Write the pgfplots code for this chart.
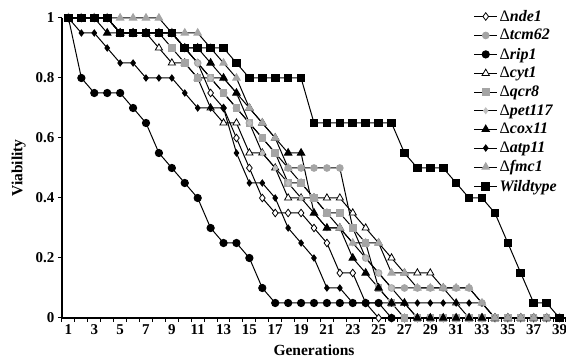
\documentclass[border=0pt]{standalone}
\usepackage{fontspec}
\setmainfont{Liberation Serif}
\usepackage{pgfplots}
\usepackage{pgfplotstable}
\pgfplotsset{compat=1.18}
\definecolor{mgray}{RGB}{165,165,165}
\definecolor{lgray}{RGB}{190,190,190}

\pgfplotstableread{
g nde tcm rip cyt qcr pet cox atp fmc wt
1 1 1 1 1 1 1 1 1 1 1
2 1 1 .8 1 1 1 1 .95 1 1
3 1 1 .75 1 1 1 1 .95 1 1
4 1 1 .75 1 1 1 .95 .9 1 1
5 .95 .95 .75 .95 .95 .95 .95 .85 1 .95
6 .95 .95 .7 .95 .95 .95 .95 .85 1 .95
7 .95 .95 .65 .95 .95 .95 .95 .8 1 .95
8 .95 .95 .55 .9 .95 .95 .95 .8 1 .95
9 .95 .95 .5 .85 .9 .95 .95 .8 .95 .95
10 .9 .9 .45 .85 .85 .9 .9 .75 .95 .9
11 .85 .85 .4 .8 .8 .85 .9 .7 .95 .9
12 .75 .8 .3 .7 .8 .8 .85 .7 .9 .9
13 .7 .75 .25 .65 .75 .8 .8 .7 .85 .9
14 .6 .7 .25 .65 .7 .75 .75 .55 .8 .85
15 .5 .65 .2 .55 .65 .65 .7 .45 .7 .8
16 .4 .6 .1 .55 .6 .55 .65 .45 .65 .8
17 .35 .55 .05 .5 .55 .5 .6 .4 .6 .8
18 .35 .5 .05 .4 .45 .45 .55 .3 .5 .8
19 .35 .5 .05 .4 .45 .4 .55 .25 .45 .8
20 .3 .5 .05 .4 .4 .35 .35 .2 .4 .65
21 .25 .5 .05 .4 .35 .3 .3 .1 .35 .65
22 .15 .5 .05 .4 .35 .3 .3 .1 .3 .65
23 .15 .3 .05 .35 .3 .25 .2 .05 .25 .65
24 .05 .2 .05 .3 .25 .2 .15 .05 .25 .65
25 0 .15 .05 .25 .1 .15 .1 .05 .25 .65
26 0 .1 0 .2 .05 .1 .05 .05 .15 .65
27 0 .1 0 .15 0 .05 .05 .05 .15 .55
28 0 .1 0 .15 0 0 0 .05 .1 .5
29 0 .1 0 .15 0 0 0 .05 .1 .5
30 0 .1 0 .1 0 0 0 .05 .1 .5
31 0 .1 0 .05 0 0 0 .05 .1 .45
32 0 .1 0 0 0 0 0 .05 .1 .4
33 0 .05 0 0 0 0 0 .05 .05 .4
34 0 0 0 0 0 0 0 0 0 .35
35 0 0 0 0 0 0 0 0 0 .25
36 0 0 0 0 0 0 0 0 0 .15
37 0 0 0 0 0 0 0 0 0 .05
38 0 0 0 0 0 0 0 0 0 .05
39 0 0 0 0 0 0 0 0 0 0
}\data

\begin{document}
\begin{tikzpicture}
\begin{axis}[
  scale only axis, width=504pt, height=300pt,
  xmin=0.5, xmax=39.5, ymin=0, ymax=1,
  axis lines*=left, axis line style={line width=1.3pt},
  clip=false,
  xtick={1,3,...,39},
  minor xtick={0.5,1.5,...,39.5},
  major x tick style={draw=none},
  ytick={0,0.2,0.4,0.6,0.8,1},
  tick align=outside,
  major tick length=4pt, minor tick length=4pt,
  tick style={line width=1pt, black},
  /pgf/number format/assume math mode=true,
  ticklabel style={font=\fontsize{15}{16}\selectfont\bfseries},
  xticklabel style={yshift=1pt},
  xlabel={Generations}, ylabel={Viability},
  label style={font=\fontsize{15.5}{17}\selectfont\bfseries},
  xlabel style={at={(rel axis cs:0.5,0)}, anchor=center, yshift=-32pt},
  ylabel style={at={(axis description cs:-0.086,0.5)}, anchor=center},
  legend style={at={(1,1)}, anchor=north east, xshift=-7pt, yshift=10pt,
    draw=none, fill=none, inner sep=0pt, row sep=2.6pt,
    font=\fontsize{16}{16}\selectfont\bfseries\itshape},
  legend cell align=left,
  legend image code/.code={\draw[mark repeat=2,mark phase=2,#1] plot coordinates {(0cm,0cm) (0.4cm,0cm) (0.8cm,0cm)};},
  every axis plot/.append style={line width=1pt, black},
]
\addplot[mark=diamond*, mark size=3.8pt, mark options={fill=white, draw=black, line width=0.8pt}] table[x=g,y=nde] {\data};
\addlegendentry{{\upshape\mdseries Δ}nde1}
\addplot[mark=*, mark size=3.3pt, mark options={fill=mgray, draw=mgray}] table[x=g,y=tcm] {\data};
\addlegendentry{{\upshape\mdseries Δ}tcm62}
\addplot[mark=*, mark size=3.6pt, mark options={fill=black}] table[x=g,y=rip] {\data};
\addlegendentry{{\upshape\mdseries Δ}rip1}
\addplot[mark=triangle*, mark size=4.2pt, mark options={fill=white, draw=black, line width=0.8pt}] table[x=g,y=cyt] {\data};
\addlegendentry{{\upshape\mdseries Δ}cyt1}
\addplot[mark=square*, mark size=3.3pt, mark options={fill=mgray, draw=mgray}] table[x=g,y=qcr] {\data};
\addlegendentry{{\upshape\mdseries Δ}qcr8}
\addplot[mark=diamond*, mark size=2.8pt, mark options={fill=lgray, draw=lgray}] table[x=g,y=pet] {\data};
\addlegendentry{{\upshape\mdseries Δ}pet117}
\addplot[mark=triangle*, mark size=4.2pt, mark options={fill=black}] table[x=g,y=cox] {\data};
\addlegendentry{{\upshape\mdseries Δ}cox11}
\addplot[mark=diamond*, mark size=3pt, mark options={fill=black}] table[x=g,y=atp] {\data};
\addlegendentry{{\upshape\mdseries Δ}atp11}
\addplot[mark=triangle*, mark size=4.2pt, mark options={fill=mgray, draw=mgray}] table[x=g,y=fmc] {\data};
\addlegendentry{{\upshape\mdseries Δ}fmc1}
\addplot[mark=square*, mark size=3.8pt, mark options={fill=black}] table[x=g,y=wt] {\data};
\addlegendentry{Wildtype}
\end{axis}
\pgfresetboundingbox
\useasboundingbox (-62pt,-41pt) rectangle (504pt,318pt);
\end{tikzpicture}
\end{document}
